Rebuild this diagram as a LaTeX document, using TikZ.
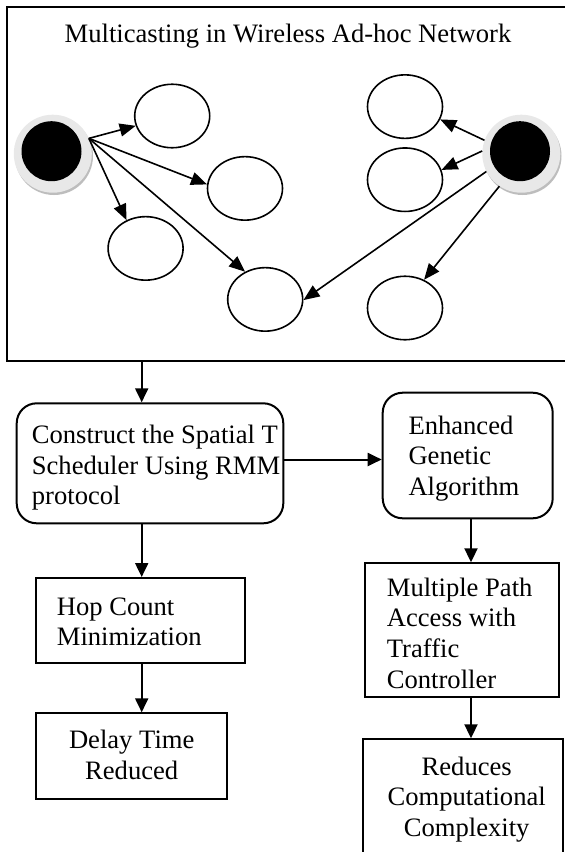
\documentclass[tikz,border=0pt]{standalone}
\usepackage{fontspec}
\setmainfont{Liberation Serif}
\usetikzlibrary{shapes.geometric,arrows.meta}
\definecolor{ringgray}{HTML}{E8E8E8}
\definecolor{shadowgray}{HTML}{BDBDBD}
\begin{document}
\begin{tikzpicture}[x=1pt,y=-1pt,
  txt/.style={inner sep=0pt, font=\fontsize{26.6}{30.6}\selectfont},
  frame/.style={draw, line width=2pt, inner sep=0pt},
  rbox/.style={draw, line width=2pt, inner sep=0pt, rounded corners=20pt},
  pbox/.style={draw, line width=2pt, inner sep=0pt},
  netnode/.style={draw, ellipse, line width=1.6pt, minimum width=75pt, minimum height=63.5pt, inner sep=0pt},
  ringnode/.style={circle, fill=ringgray, minimum size=78pt, inner sep=0pt},
  shadownode/.style={circle, fill=shadowgray, minimum size=78pt, inner sep=0pt},
  coren/.style={circle, fill=black, minimum size=60pt, inner sep=0pt},
  arrS/.style={-{Triangle[length=16pt,width=13pt]}, line width=1.6pt},
  arrL/.style={-{Triangle[length=14pt,width=13pt]}, line width=2pt}]
\useasboundingbox (0,0) rectangle (565,852);
\clip (0,0) rectangle (565,852);
\fill[white] (0,0) rectangle (565,852);

% top frame
\node[frame, minimum width=573.5pt, minimum height=354pt] (Top) at (293.25,183.5) {};
\node[txt, anchor=north] (title) at (288,22.5) {\rule{0pt}{20pt}Multicasting in Wireless Ad-hoc Network};

% source nodes
\node[shadownode] (Ls) at (54,156) {};
\node[ringnode] (L) at (52.8,153.7) {};
\node[coren] (Lc) at (51.5,151.2) {};
\node[shadownode] (Rs) at (522.5,156) {};
\node[ringnode] (R) at (521.3,153.7) {};
\node[coren] (Rc) at (520,151.2) {};

% receivers
\node[netnode] (E1) at (172.2,116) {};
\node[netnode] (E2) at (245,188.4) {};
\node[netnode] (E3) at (145.6,248.4) {};
\node[netnode] (E4) at (265.2,299.4) {};
\node[netnode] (E5) at (405,106.6) {};
\node[netnode] (E6) at (405,179.7) {};
\node[netnode] (E7) at (405,308) {};

\draw[arrS] (L.23) -- (E1);
\draw[arrS] (L.23) -- (E2.174);
\draw[arrS] (L.23) -- (E3.124);
\draw[arrS] (L.23) -- (E4.126);
\draw[arrS] (R.160) -- (E5.-20);
\draw[arrS] (R.176) -- (E6.15);
\draw[arrS] (R.207) -- (E4.-1.5);
\draw[arrS] (R.236) -- (E7.56);

% flow boxes
\node[rbox, minimum width=266.6pt, minimum height=120pt] (A) at (150,463.3) {};
\node[rbox, minimum width=170pt, minimum height=125.6pt] (B) at (467.7,455.5) {};
\node[pbox, minimum width=209pt, minimum height=85.3pt] (C) at (140.5,620.65) {};
\node[pbox, minimum width=191.3pt, minimum height=85.7pt] (E) at (131.65,756.15) {};
\node[pbox, minimum width=194.3pt, minimum height=133.4pt] (D) at (462.15,630) {};
\node[pbox, minimum width=200.3pt, minimum height=140.7pt] (F) at (462.85,809.65) {};

\node[txt, anchor=north west, align=left] (At) at (31.7,423.3) {\rule{0pt}{20pt}Construct the Spatial T\\Scheduler Using RMM\\protocol};
\node[txt, anchor=north west, align=left] (Bt) at (408.3,414) {\rule{0pt}{20pt}Enhanced\\Genetic\\Algorithm};
\node[txt, anchor=north west, align=left] (Ct) at (56.7,595) {\rule{0pt}{20pt}Hop Count\\Minimization};
\node[txt, anchor=north west, align=left] (Dt) at (386.7,576) {\rule{0pt}{20pt}Multiple Path\\Access with\\Traffic\\Controller};
\node[txt, anchor=north, align=center] (Et) at (131.7,728.3) {\rule{0pt}{20pt}Delay Time\\Reduced};
\node[txt, anchor=north, align=center] (Ft) at (466.7,755) {\rule{0pt}{20pt}Reduces\\Computational\\Complexity};

\coordinate (c1) at (141.7,0);
\coordinate (c2) at (0,459.5);
\coordinate (c3) at (471,0);
\draw[arrL] (Top.south -| c1) -- (A.north -| c1);
\draw[arrL] (A.east |- c2) -- (B.west |- c2);
\draw[arrL] (A.south -| c1) -- (C.north -| c1);
\draw[arrL] (C.south -| c1) -- (E.north -| c1);
\draw[arrL] (B.south -| c3) -- (D.north -| c3);
\draw[arrL] (D.south -| c3) -- (F.north -| c3);
\end{tikzpicture}
\end{document}
